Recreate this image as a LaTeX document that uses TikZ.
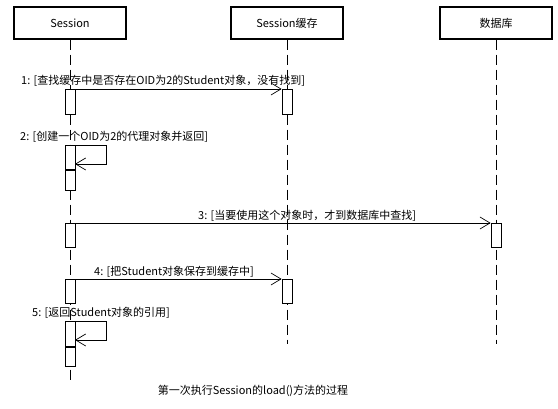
\documentclass[tikz,border=0pt]{standalone}
\usepackage{fontspec}
\setmainfont{Noto Sans CJK SC}
\usetikzlibrary{arrows.meta,positioning}

\begin{document}
\begin{tikzpicture}[x=1pt,y=-1pt,>={Straight Barb[length=10pt,width=12pt]},
    font=\fontsize{11}{13}\selectfont,
    head/.style={draw,line width=1.5pt,minimum width=112pt,minimum height=32pt,inner sep=0pt},
    life/.style={dashed,dash pattern=on 10pt off 5pt,line width=0.7pt},
    act/.style={draw,fill=white,line width=0.7pt,minimum width=10pt,inner sep=0pt,anchor=north},
    msg/.style={->,line width=0.7pt},
    lbl/.style={inner sep=0pt,anchor=west}]
    \useasboundingbox (0,0) rectangle (558,409);
    % lifeline heads
    \node[head] (session) at (70,23) {Session};
    \node[head] (cache) at (287,23) {Session缓存};
    \node[head] (db) at (496,23) {数据库};
    \coordinate (sessionEnd) at (70,382);
    \coordinate (cacheEnd) at (287,344);
    \coordinate (dbEnd) at (496,344);
    \draw[life] (session.south) -- (sessionEnd);
    \draw[life] (cache.south) -- (cacheEnd);
    \draw[life] (db.south) -- (dbEnd);
    % activations
    \node[act,minimum height=25pt] (a1) at (70,89) {};
    \node[act,minimum height=25pt] (b1) at (287,89) {};
    \node[act,minimum height=24pt] (a2) at (70,145) {};
    \node[act,minimum height=20pt] (a2b) at (a2.south) {};
    \node[act,minimum height=24pt] (a3) at (70,223) {};
    \node[act,minimum height=24pt] (c3) at (496,223) {};
    \node[act,minimum height=24pt] (a4) at (70,279) {};
    \node[act,minimum height=24pt] (b4) at (287,279) {};
    \node[act,minimum height=25pt] (a5) at (70,321) {};
    \node[act,minimum height=19pt] (a5b) at (a5.south) {};
    \coordinate (ret2) at (75,164);
    \coordinate (ret5) at (75,340);
    % messages
    \draw[msg] (a1.north east) -- (b1.north west);
    \draw[msg] (a2.north east) -- ++(31,0) |- (ret2);
    \draw[msg] (a3.north east) -- (c3.north west);
    \draw[msg] (a4.north east) -- (b4.north west);
    \draw[msg] (a5.north east) -- ++(31,0) |- (ret5);
    % labels
    \node[lbl] (m1) at (21,81) {1: [查找缓存中是否存在OID为2的Student对象，没有找到]};
    \node[lbl] (m2) at (20,137) {2: [创建一个OID为2的代理对象并返回]};
    \node[lbl] (m3) at (198,216) {3: [当要使用这个对象时，才到数据库中查找]};
    \node[lbl] (m4) at (94,272) {4: [把Student对象保存到缓存中]};
    \node[lbl] (m5) at (32,313) {5: [返回Student对象的引用]};
    \node (caption) at (253,391) {第一次执行Session的load()方法的过程};
\end{tikzpicture}
\end{document}
